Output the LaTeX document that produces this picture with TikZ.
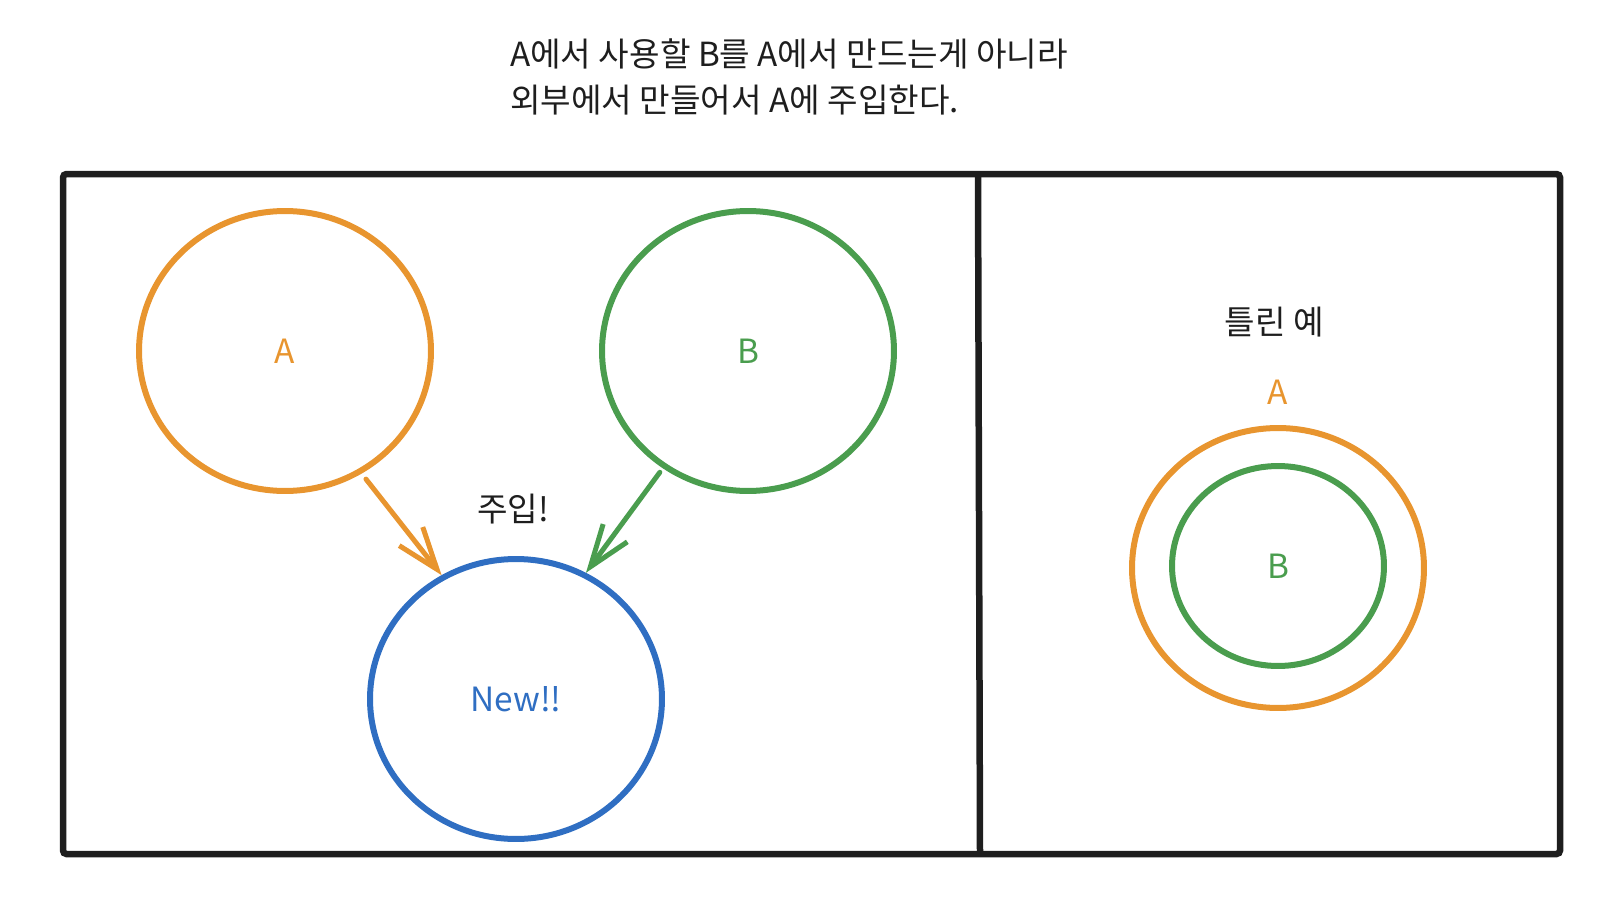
\documentclass[tikz,border=0pt]{standalone}
\usepackage{fontspec}
\setmainfont{Noto Sans CJK KR}
\usetikzlibrary{shapes.geometric,arrows.meta}
\definecolor{inkblack}{HTML}{1E1E1E}
\definecolor{aorange}{HTML}{E8952F}
\definecolor{bgreen}{HTML}{4A9D4E}
\definecolor{newblue}{HTML}{2F6EC2}
\tikzset{
  blob/.style={draw,ellipse,line width=0.12cm,inner sep=0pt,minimum width=5.84cm,minimum height=5.6cm,font=\fontsize{19}{23}\selectfont},
  smallblob/.style={blob,minimum width=4.24cm,minimum height=4cm},
  inject/.style={line width=0.1cm,line cap=round,line join=round,-{Straight Barb[length=0.84cm,width=0.6cm]}},
  note/.style={text=inkblack,font=\fontsize{18.9}{26}\selectfont}
}
\begin{document}
\begin{tikzpicture}[x=0.02cm,y=-0.02cm]
\useasboundingbox (0,0) rectangle (1616,916);
\node[note,align=left] (title) at (789,77) {A에서 사용할 B를 A에서 만드는게 아니라\\외부에서 만들어서 A에 주입한다.};
\draw[inkblack,line width=0.13cm,rounded corners=2pt] (63,174) rectangle (1560,854);
\draw[inkblack,line width=0.13cm] (978,177) -- (980,853);
\node[blob,aorange] (a) at (285,351) {A};
\node[blob,bgreen] (b) at (748,351) {B};
\node[blob,newblue] (new) at (516,699) {New!!};
\draw[inject,aorange,shorten <=0.14cm] (a.302) -- (new.121.5);
\draw[inject,bgreen,shorten <=0.1cm] (b.234) -- (new.61.5);
\node[note] (inject) at (513,509) {주입!};
\node[note] (wrong) at (1274,322) {틀린 예};
\node[blob,aorange] (outer) at (1278,568) {};
\node[aorange,font=\fontsize{19}{23}\selectfont] (outerlabel) at (1278,392) {A};
\node[smallblob,bgreen] (inner) at (1278,566) {B};
\end{tikzpicture}
\end{document}
